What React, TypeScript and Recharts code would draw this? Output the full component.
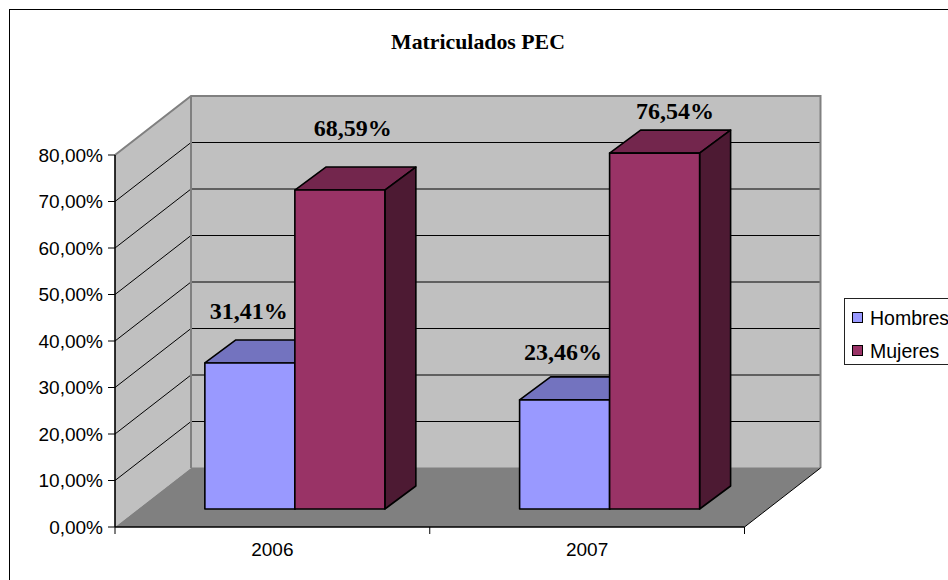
import React from 'react';
import { BarChart, Bar, XAxis, YAxis, Legend, Customized, LabelList, usePlotArea } from 'recharts';

const years = ['2006', '2007'];
const hombres = [31.41, 23.46];
const mujeres = [68.59, 76.54];
const yTicks = [0, 10, 20, 30, 40, 50, 60, 70, 80];
const title = 'Matriculados PEC';

const rows = years.map((year, i) => ({ year, Hombres: hombres[i], Mujeres: mujeres[i] }));

const W = 948;
const H = 580;
const WALL_DX = 76;
const WALL_DY = -59;
const BAR_SHIFT_X = 22.5;
const BAR_SHIFT_Y = -18;
const BAR_DX = 31;
const BAR_DY = -23;

const SANS = '"Liberation Sans", Arial, sans-serif';
const SERIF = '"Liberation Serif", "Times New Roman", serif';

const pct = (v: number) => v.toFixed(2).replace('.', ',') + '%';

function Walls() {
  const p = usePlotArea();
  if (!p) return null;
  const { x, y, width, height } = p;
  const r = x + width;
  const b = y + height;
  const yOf = (t: number) => b - (t / 80) * height;
  const pts = (a: number[][]) => a.map((q) => q.join(',')).join(' ');
  return (
    <g>
      <rect x={9.5} y={9.5} width={W + 20} height={H + 20} fill="none" stroke="#000" strokeWidth={1} />
      <text x={478} y={49} textAnchor="middle" fontFamily={SERIF} fontWeight="bold" fontSize={21.8} fill="#000">
        {title}
      </text>
      <polygon points={pts([[x + WALL_DX, y + WALL_DY], [r + WALL_DX, y + WALL_DY], [r + WALL_DX, b + WALL_DY], [x + WALL_DX, b + WALL_DY]])} fill="#c0c0c0" />
      <polygon points={pts([[x, y], [x + WALL_DX, y + WALL_DY], [x + WALL_DX, b + WALL_DY], [x, b]])} fill="#c0c0c0" />
      <polygon points={pts([[x, b], [r, b], [r + WALL_DX, b + WALL_DY], [x + WALL_DX, b + WALL_DY]])} fill="#808080" />
      {yTicks.slice(1, -1).map((t) => (
        <polyline
          key={t}
          points={pts([[x, yOf(t)], [x + WALL_DX, yOf(t) + WALL_DY], [r + WALL_DX, yOf(t) + WALL_DY]])}
          fill="none"
          stroke="#000"
          strokeWidth={1}
        />
      ))}
      <polyline
        points={pts([[x, y], [x + WALL_DX, y + WALL_DY], [r + WALL_DX, y + WALL_DY], [r + WALL_DX, b + WALL_DY]])}
        fill="none"
        stroke="#808080"
        strokeWidth={2}
      />
      <line x1={x + WALL_DX} y1={y + WALL_DY} x2={x + WALL_DX} y2={b + WALL_DY} stroke="#808080" strokeWidth={2} />
      <line x1={x + WALL_DX} y1={b + WALL_DY} x2={r + WALL_DX} y2={b + WALL_DY} stroke="#808080" strokeWidth={1} />
      <line x1={r} y1={b} x2={r + WALL_DX} y2={b + WALL_DY} stroke="#000" strokeWidth={1} />
      <line x1={x} y1={y} x2={x} y2={b} stroke="#000" strokeWidth={1.2} />
      <line x1={x} y1={b} x2={r} y2={b} stroke="#000" strokeWidth={1.2} />
      {[0, 1, 2].map((i) => {
        const tx = x + (i * width) / 2;
        return <line key={i} x1={tx} y1={b} x2={tx} y2={b + 7} stroke="#000" strokeWidth={1} />;
      })}
    </g>
  );
}

function Box3D(props: any) {
  const { x, y, width, height, fill, top, side } = props;
  const l = x + BAR_SHIFT_X;
  const t = y + BAR_SHIFT_Y;
  const r = l + width;
  const b = t + height;
  const stroke = { stroke: '#000', strokeWidth: 1.6, strokeLinejoin: 'round' as const };
  return (
    <g>
      <polygon points={`${l},${t} ${l + BAR_DX},${t + BAR_DY} ${r + BAR_DX},${t + BAR_DY} ${r},${t}`} fill={top} {...stroke} />
      <polygon points={`${r},${t} ${r + BAR_DX},${t + BAR_DY} ${r + BAR_DX},${b + BAR_DY} ${r},${b}`} fill={side} {...stroke} />
      <rect x={l} y={t} width={width} height={height} fill={fill} {...stroke} />
    </g>
  );
}

const hombresNudge = [[21.5, -62], [21, -58]];
const mujeresNudge = [[35.5, -72], [43, -52]];

const makeLabel = (nudge: number[][]) => (props: any) => {
  const { x, y, width, value, index } = props;
  return (
    <text
      x={x + width / 2 + nudge[index][0]}
      y={y + nudge[index][1]}
      textAnchor="middle"
      fontFamily={SERIF}
      fontWeight="bold"
      fontSize={24}
      fill="#000"
    >
      {pct(value)}
    </text>
  );
};

function LegendBox(props: any) {
  const items = props.payload || [];
  return (
    <div style={{ position: 'absolute', left: 844, top: 298, width: 130, height: 67, boxSizing: 'border-box', border: '1px solid #222', background: '#fff', fontFamily: SANS, fontSize: 19.5, color: '#000' }}>
      {items.map((it: any, i: number) => (
        <div key={it.value} style={{ position: 'absolute', left: 7, top: 9 + i * 33, height: 22, lineHeight: '22px', whiteSpace: 'nowrap' }}>
          <span style={{ position: 'absolute', left: 0, top: 4, width: 9, height: 9, background: it.color, border: '1.5px solid #000' }} />
          <span style={{ position: 'absolute', left: 18, top: -1 }}>{it.value}</span>
        </div>
      ))}
    </div>
  );
}

export default function App() {
  return (
    <div style={{ position: 'absolute', left: 0, top: 0, width: W, height: H, overflow: 'hidden', background: '#fff' }}>
      <BarChart
        width={W}
        height={H}
        data={rows}
        margin={{ top: 155, right: 203.5, bottom: 23, left: 15 }}
        barCategoryGap="21.4%"
        barGap={0}
      >
        <Customized component={Walls} />
        <XAxis
          dataKey="year"
          height={30}
          tickLine={false}
          axisLine={{ stroke: '#000' }}
          tick={{ fontFamily: SANS, fontSize: 19, fill: '#000' }}
          tickMargin={10}
        />
        <YAxis
          width={100}
          domain={[0, 80]}
          ticks={yTicks}
          tickFormatter={pct}
          axisLine={{ stroke: '#000' }}
          tickLine={{ stroke: '#000' }}
          tickSize={7}
          tickMargin={5}
          tick={{ fontFamily: SANS, fontSize: 19, fill: '#000' }}
        />
        <Legend content={LegendBox} wrapperStyle={{ position: 'absolute', left: 0, top: 0, bottom: 'auto', right: 'auto', width: 0, height: 0 }} />
        <Bar
          dataKey="Hombres"
          fill="#9999ff"
          isAnimationActive={false}
          shape={(p: any) => <Box3D {...p} fill="#9999ff" top="#7373bf" side="#4d4d80" />}
        >
          <LabelList dataKey="Hombres" content={makeLabel(hombresNudge)} />
        </Bar>
        <Bar
          dataKey="Mujeres"
          fill="#993366"
          isAnimationActive={false}
          shape={(p: any) => <Box3D {...p} fill="#993366" top="#73264d" side="#4d1a33" />}
        >
          <LabelList dataKey="Mujeres" content={makeLabel(mujeresNudge)} />
        </Bar>
      </BarChart>
    </div>
  );
}
